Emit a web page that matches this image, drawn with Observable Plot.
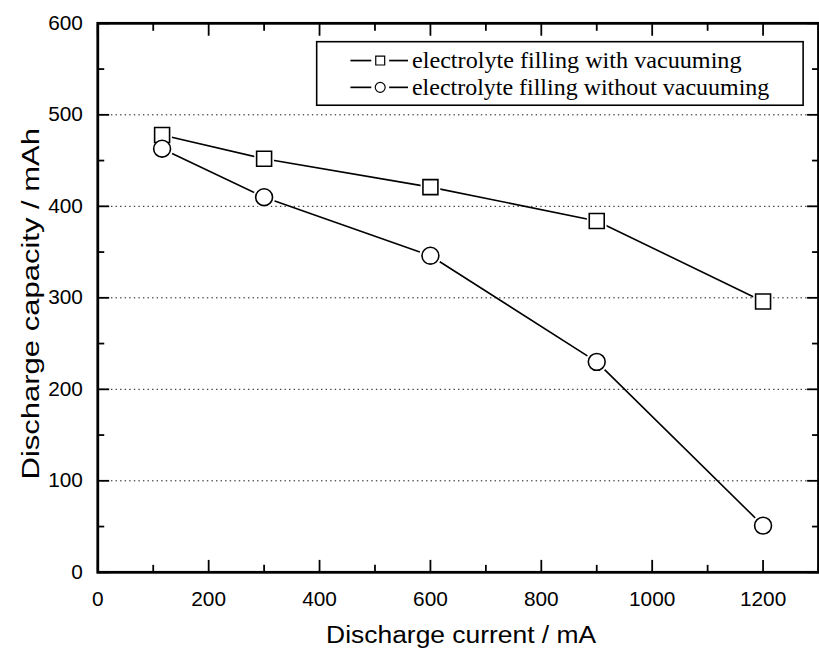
<!DOCTYPE html>
<html>
<head>
<meta charset="utf-8">
<script src="https://cdn.jsdelivr.net/npm/d3@7"></script>
<script src="https://cdn.jsdelivr.net/npm/@observablehq/plot@0.6"></script>
<style>
  html, body { margin: 0; padding: 0; background: #fff; }
  #chart { width: 819px; height: 655px; overflow: hidden; position: relative; }
</style>
</head>
<body>
<div id="chart"></div>
<script>
// Discharge capacity of cells at several discharge currents
const currents = [116, 300, 600, 900, 1200];
const capacityWithVacuum = [478, 452, 421, 384, 296];
const capacityWithoutVacuum = [463, 410, 346, 230, 51];

const seriesNames = ["electrolyte filling with vacuuming", "electrolyte filling without vacuuming"];
const seriesSymbols = ["square", "circle"];

const xMajorTicks = [0, 200, 400, 600, 800, 1000, 1200];
const xMinorTicks = [100, 300, 500, 700, 900, 1100, 1300];
const yMajorTicks = [0, 100, 200, 300, 400, 500, 600];
const yMinorTicks = [50, 150, 250, 350, 450, 550];
const yGridLines = [100, 200, 300, 400, 500];

const xTitle = "Discharge current / mA";
const yTitle = "Discharge capacity / mAh";

const seriesValues = [capacityWithVacuum, capacityWithoutVacuum];
const rows = seriesNames.flatMap((name, s) =>
  currents.map((c, i) => ({series: name, current: c, capacity: seriesValues[s][i]}))
);

const W = 825, H = 655;
const tickFont = "'Liberation Sans', Arial, sans-serif";
const tickFontSize = 21;

const chart = Plot.plot({
  width: W,
  height: H,
  marginLeft: 98,
  marginRight: 1,
  marginTop: 23,
  marginBottom: 79,
  style: {fontFamily: tickFont, fontSize: "21px", background: "white", color: "black", overflow: "visible"},
  x: {domain: [0, 1300]},
  y: {domain: [0, 600]},
  symbol: {domain: seriesNames, range: seriesSymbols},
  marks: [
    Plot.ruleY(yGridLines, {stroke: "#111", strokeWidth: 1, strokeDasharray: "1.4,3.2"}),
    Plot.line(rows, {x: "current", y: "capacity", z: "series", stroke: "black", strokeWidth: 1.6}),
    // white halo so each connecting line stops short of its marker
    Plot.dot(rows, {x: "current", y: "capacity", symbol: "series", r: 11.2, fill: "white", stroke: "none"}),
    Plot.dot(rows, {x: "current", y: "capacity", symbol: "series", r: 8.5, fill: "white", stroke: "black", strokeWidth: 1.6}),
    // inward ticks on all four sides
    Plot.axisX({anchor: "bottom", ticks: xMajorTicks, tickSize: -12, tickPadding: 31, label: null, tickFormat: d => String(d), fontSize: tickFontSize, strokeWidth: 1.8}),
    Plot.axisX({anchor: "bottom", ticks: xMinorTicks, tickSize: -7, label: null, tickFormat: () => "", strokeWidth: 1.8}),
    Plot.axisX({anchor: "top", ticks: xMajorTicks, tickSize: -12, label: null, tickFormat: () => "", strokeWidth: 1.8}),
    Plot.axisX({anchor: "top", ticks: xMinorTicks, tickSize: -7, label: null, tickFormat: () => "", strokeWidth: 1.8}),
    Plot.axisY({anchor: "left", ticks: yMajorTicks, tickSize: -12, tickPadding: 27, label: null, tickFormat: d => String(d), fontSize: tickFontSize, strokeWidth: 1.8}),
    Plot.axisY({anchor: "left", ticks: yMinorTicks, tickSize: -7, label: null, tickFormat: () => "", strokeWidth: 1.8}),
    Plot.axisY({anchor: "right", ticks: yMajorTicks, tickSize: -12, label: null, tickFormat: () => "", strokeWidth: 1.8}),
    Plot.axisY({anchor: "right", ticks: yMinorTicks, tickSize: -7, label: null, tickFormat: () => "", strokeWidth: 1.8}),
    Plot.frame({stroke: "black", strokeWidth: 2.8}),
    Plot.text([xTitle], {frameAnchor: "bottom", dx: 3, dy: 71, fontSize: 24, className: "x-title"})
  ]
});

document.getElementById("chart").appendChild(chart);

const svg = d3.select(chart);
svg.selectAll(".x-title text").attr("textLength", 272).attr("lengthAdjust", "spacingAndGlyphs");

// vertical axis title
const yTitleLength = 354;
svg.append("text")
  .attr("transform", "translate(39,306) rotate(-90)")
  .attr("x", -yTitleLength / 2)
  .attr("text-anchor", "start")
  .attr("font-family", tickFont)
  .attr("font-size", 24)
  .attr("fill", "black")
  .attr("textLength", yTitleLength)
  .attr("lengthAdjust", "spacingAndGlyphs")
  .text(yTitle);

// legend box in the upper right of the plot area
const legend = svg.append("g").attr("class", "legend").attr("text-anchor", "start");
const box = {x: 319, y: 42, w: 490, h: 64};
legend.append("rect")
  .attr("x", box.x).attr("y", box.y).attr("width", box.w).attr("height", box.h)
  .attr("fill", "white").attr("stroke", "black").attr("stroke-width", 1.6);

const rowY = [61, 88];
const textLengths = [332, 360];
seriesNames.forEach((name, i) => {
  const g = legend.append("g").attr("transform", `translate(0,${rowY[i]})`);
  g.append("line").attr("x1", 353).attr("x2", 374).attr("y1", 0).attr("y2", 0).attr("stroke", "black").attr("stroke-width", 1.7);
  g.append("line").attr("x1", 392).attr("x2", 411).attr("y1", 0).attr("y2", 0).attr("stroke", "black").attr("stroke-width", 1.7);
  const sym = seriesSymbols[i] === "square" ? d3.symbolSquare : d3.symbolCircle;
  const size = seriesSymbols[i] === "square" ? 9 * 9 : Math.PI * 5 * 5;
  g.append("path").attr("transform", "translate(383,0)")
    .attr("d", d3.symbol(sym, size)())
    .attr("fill", "white").attr("stroke", "black").attr("stroke-width", 1.2);
  g.append("text")
    .attr("x", 415).attr("y", 7.5)
    .attr("text-anchor", "start")
    .attr("font-family", "'Liberation Serif', 'Times New Roman', serif")
    .attr("font-size", 23)
    .attr("fill", "black")
    .attr("textLength", textLengths[i])
    .attr("lengthAdjust", "spacingAndGlyphs")
    .text(name);
});
</script>
</body>
</html>
